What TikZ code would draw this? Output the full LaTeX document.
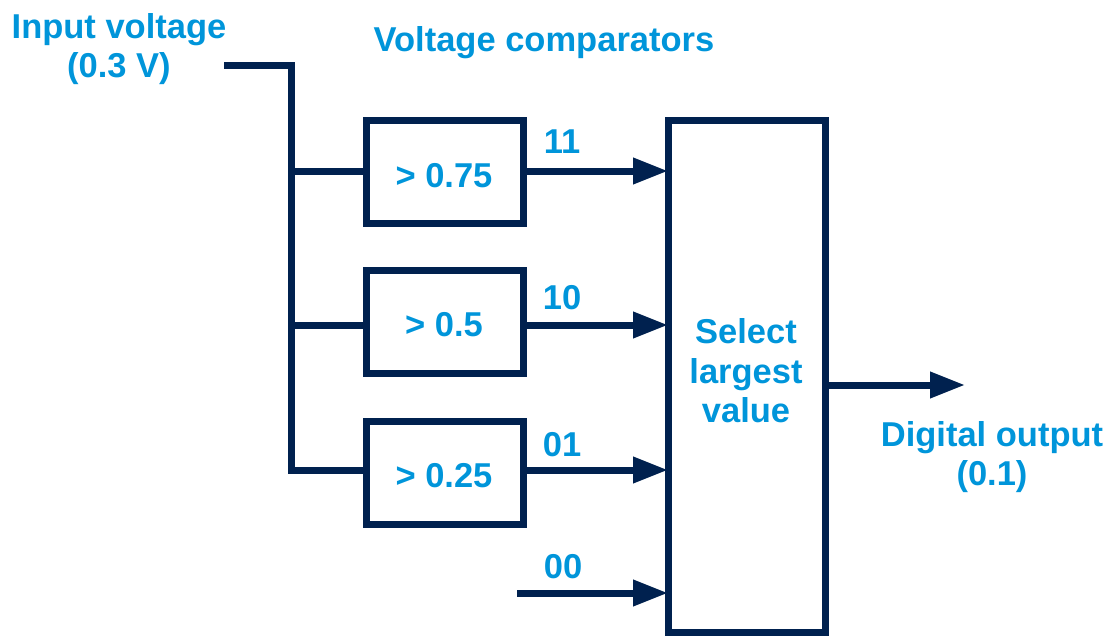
\documentclass[tikz,border=0pt]{standalone}
\usepackage{fontspec}
\setmainfont{Liberation Sans}
\usetikzlibrary{arrows.meta}
\definecolor{navy}{HTML}{00214F}
\definecolor{tblue}{HTML}{0095DA}
\tikzset{
  wire/.style={draw=navy, line width=7pt},
  arr/.style={wire, -{Triangle[length=35pt,width=25pt]}, shorten >=-3pt},
  cbox/.style={draw=navy, line width=7pt, minimum width=157pt, minimum height=103pt, inner sep=0pt},
  lbl/.style={text=tblue, font=\bfseries\fontsize{34.5}{39.5}\selectfont, inner sep=0pt, align=center},
}
\begin{document}
\begin{tikzpicture}[x=1pt,y=-1pt]
\useasboundingbox (0,0) rectangle (1110,637);
% labels
\node[lbl] (tin) at (119,49) {Input voltage\\(0.3 V)};
\node[lbl] (tvc) at (544,43) {Voltage comparators};
% comparator boxes
\node[cbox] (b1) at (445,172) {};
\node[lbl] (t1) at (444,176) {> 0.75};
\node[cbox] (b2) at (445,322) {};
\node[lbl] (t2) at (444,325) {> 0.5};
\node[cbox] (b3) at (445,473) {};
\node[lbl] (t3) at (444,476) {> 0.25};
% selector
\node[draw=navy, line width=7pt, minimum width=157pt, minimum height=512pt, inner sep=0pt] (big) at (747,376.5) {};
\node[lbl] (tsel) at (746,371) {Select\\largest\\value};
% input wiring
\coordinate (in) at (224,65);
\coordinate (tr) at (291,65);
\coordinate (j1) at (291,171);
\coordinate (j2) at (291,325);
\coordinate (j3) at (291,470);
\draw[wire] (in) -- (tr) -- (j3) -- (b3.west |- j3);
\draw[wire] (j1) -- (b1.west |- j1);
\draw[wire] (j2) -- (b2.west |- j2);
% outputs of comparators
\draw[arr] (b1.east |- j1) -- (big.west |- j1);
\draw[arr] (b2.east |- j2) -- (big.west |- j2);
\draw[arr] (b3.east |- j3) -- (big.west |- j3);
\coordinate (z0) at (517,593);
\draw[arr] (z0) -- (big.west |- z0);
\node[lbl] (l11) at (562,142) {11};
\node[lbl] (l10) at (562,298) {10};
\node[lbl] (l01) at (562,445) {01};
\node[lbl] (l00) at (563,567) {00};
% output
\coordinate (o1) at (827,385);
\coordinate (o2) at (965,385);
\draw[wire, -{Triangle[length=35pt,width=25pt]}] (big.east |- o1) -- (o2);
\node[lbl] (tout) at (992,457) {Digital output\\(0.1)};
\end{tikzpicture}
\end{document}
